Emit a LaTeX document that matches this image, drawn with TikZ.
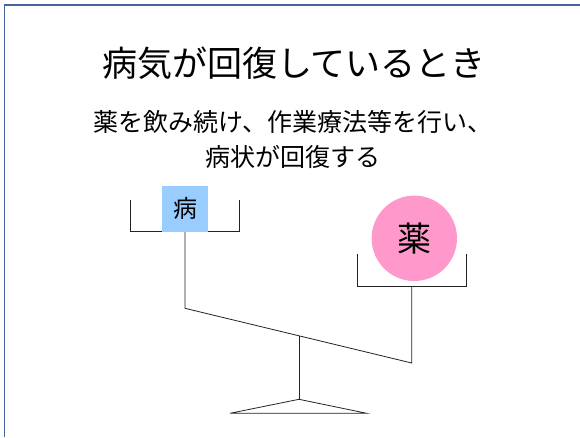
\documentclass[tikz,border=0pt]{standalone}
\usepackage{fontspec}
\newfontfamily\cjk{Noto Sans CJK JP}
\definecolor{framec}{HTML}{41659C}
\definecolor{boxblue}{HTML}{99CCFF}
\definecolor{pinkc}{HTML}{FF99CC}
\definecolor{linec}{HTML}{222222}
\tikzset{
  frameline/.style={draw=framec, line width=1.6pt},
  scaleline/.style={draw=linec, line width=0.8pt},
  titletext/.style={font=\cjk\fontsize{35}{42}\selectfont, inner sep=0pt},
  subtext/.style={font=\cjk\fontsize{25}{35}\selectfont, align=center, inner sep=0pt},
}
\begin{document}
\begin{tikzpicture}[x=1pt,y=-1pt]
\useasboundingbox (0,0) rectangle (580,437);
% frame
\coordinate (fbl) at (4.5,437);
\coordinate (ftl) at (4.5,5);
\coordinate (ftr) at (580,5);
\draw[frameline] (fbl) -- (ftl) -- (ftr);
% texts
\node[titletext] (title) at (294,63) {病気が回復しているとき};
\node[subtext] (sub) at (293,139) {薬を飲み続け、作業療法等を行い、\\病状が回復する};
% balance coordinates
\coordinate (lbl) at (130.7,200);
\coordinate (lbbl) at (130.7,231.7);
\coordinate (lbbr) at (239,231.7);
\coordinate (lbr) at (239,200);
\coordinate (ls) at (185,231.7);
\coordinate (lbeam) at (185,308.3);
\coordinate (rbeam) at (411.7,363);
\coordinate (rs) at (411.7,286);
\coordinate (rbl) at (357.3,254);
\coordinate (rbbl) at (357.3,286);
\coordinate (rbbr) at (466.7,286);
\coordinate (rbr) at (466.7,254);
\coordinate (ptop) at (299,335.8);
\coordinate (apex) at (299,399.3);
\coordinate (bl) at (230,413.3);
\coordinate (br) at (366.7,413.3);
% drawing
\draw[scaleline] (lbl) -- (lbbl) -- (lbbr) -- (lbr);
\draw[scaleline] (ls) -- (lbeam) -- (rbeam) -- (rs);
\draw[scaleline] (rbl) -- (rbbl) -- (rbbr) -- (rbr);
\draw[scaleline] (ptop) -- (apex);
\draw[scaleline] (bl) -- (apex) -- (br) -- cycle;
% weights
\node[fill=boxblue, minimum width=45.4pt, minimum height=45.7pt, inner sep=0pt,
      font=\cjk\fontsize{24}{28}\selectfont] (byo) at (185,208.85) {病};
\node[circle, fill=pinkc, minimum size=85.4pt, inner sep=0pt,
      font=\cjk\fontsize{34}{40}\selectfont] (kusuri) at (414.3,238.3) {薬};
\end{tikzpicture}
\end{document}
